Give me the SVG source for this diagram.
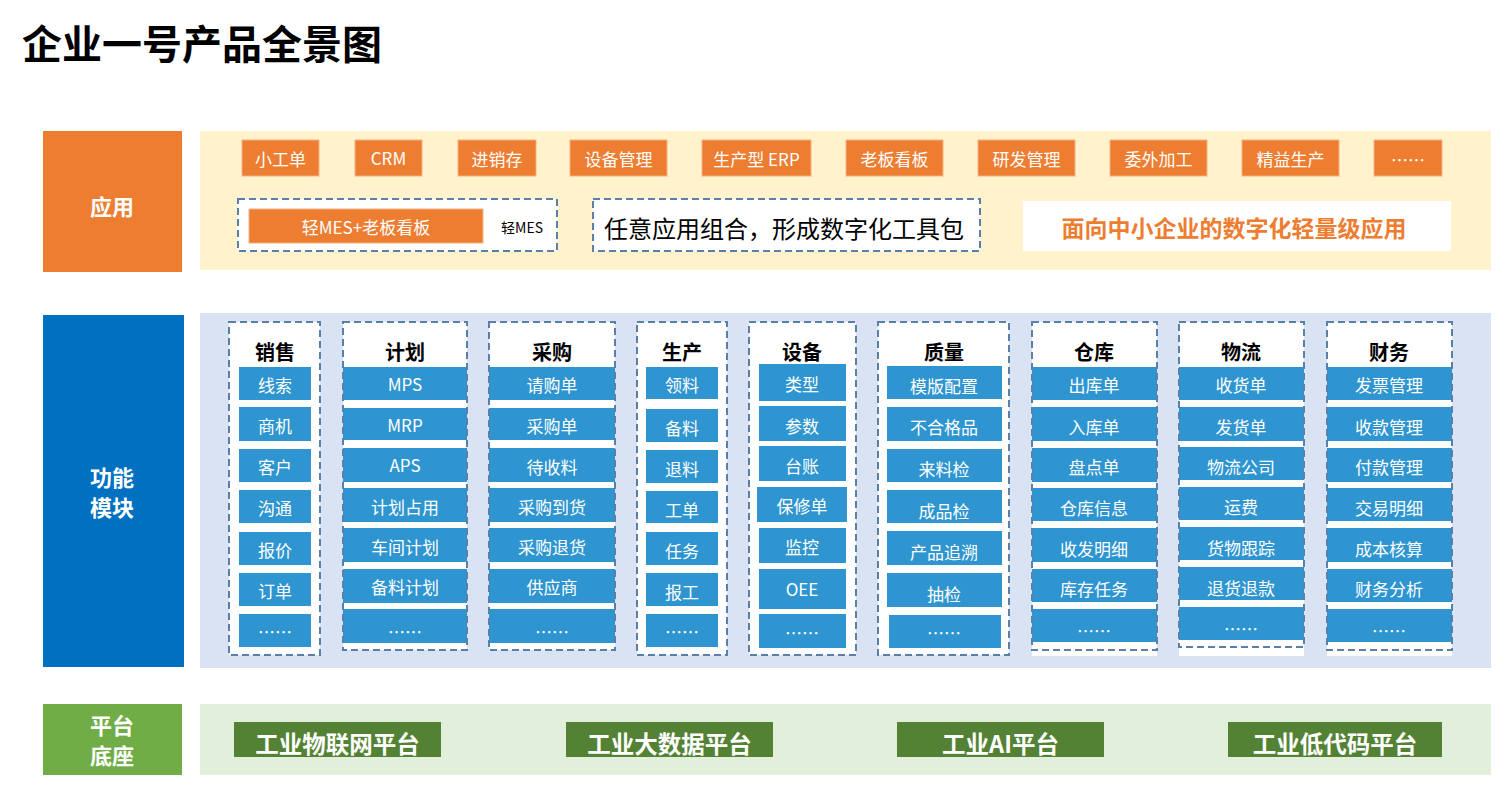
<svg xmlns="http://www.w3.org/2000/svg" width="1506" height="807" viewBox="0 0 1506 807">
<style>
text{font-family:"Noto Sans CJK SC","Noto Sans",sans-serif;}
.title{font-size:40px;font-weight:bold;fill:#000;}
.side{font-size:22px;font-weight:bold;fill:#fff;text-anchor:middle;}
.app{fill:#ED7D31;stroke:#F4B183;stroke-width:1;}
.appt{font-size:17px;fill:#fff;text-anchor:middle;transform:translate(0px,2px);}
.dash{fill:#fff;stroke:#5A7FA8;stroke-width:2;stroke-dasharray:7 4;}
.dashn{fill:none;stroke:#5A7FA8;stroke-width:2;stroke-dasharray:7 4;}
.hd{font-size:20px;font-weight:bold;fill:#000;text-anchor:middle;}
.it{fill:#2E95D1;}
.itt{font-size:17px;fill:#fff;text-anchor:middle;transform:translate(0px,2px);}
.plat{fill:#548235;}
.platt{font-size:23.5px;font-weight:bold;fill:#fff;text-anchor:middle;}
</style>

<text class="title" x="22" y="59">企业一号产品全景图</text>

<!-- 应用 layer -->
<g id="layer-app">
<rect x="43" y="131" width="139" height="141" fill="#ED7D31"/>
<text class="side" x="112" y="215">应用</text>
<rect x="200" y="131" width="1291" height="139" fill="#FFF2CC"/>
</g>
<g id="app-items">
<g id="app1"><rect class="app" x="242" y="140" width="77" height="36"/><text class="appt" x="280.5" y="164">小工单</text></g>
<g id="app2"><rect class="app" x="355" y="140" width="67" height="36"/><text class="appt" x="388.5" y="163">CRM</text></g>
<g id="app3"><rect class="app" x="458" y="140" width="78" height="36"/><text class="appt" x="497" y="164">进销存</text></g>
<g id="app4"><rect class="app" x="570" y="140" width="97" height="36"/><text class="appt" x="618.5" y="164">设备管理</text></g>
<g id="app5"><rect class="app" x="702" y="140" width="109" height="36"/><text class="appt" x="756.5" y="164">生产型 ERP</text></g>
<g id="app6"><rect class="app" x="846" y="140" width="97" height="36"/><text class="appt" x="894.5" y="164">老板看板</text></g>
<g id="app7"><rect class="app" x="978" y="140" width="97" height="36"/><text class="appt" x="1026.5" y="164">研发管理</text></g>
<g id="app8"><rect class="app" x="1110" y="140" width="97" height="36"/><text class="appt" x="1158.5" y="164">委外加工</text></g>
<g id="app9"><rect class="app" x="1242" y="140" width="97" height="36"/><text class="appt" x="1290.5" y="164">精益生产</text></g>
<g id="app10"><rect class="app" x="1374" y="140" width="68" height="36"/><text class="appt" x="1408" y="165">……</text></g>
</g>
<g id="app-combo">
<rect class="dash" x="238" y="199" width="319" height="52"/>
<rect class="app" x="249" y="209" width="234" height="34"/>
<text class="appt" x="366" y="232">轻MES+老板看板</text>
<text x="522" y="233" font-size="14" fill="#000" text-anchor="middle">轻MES</text>
</g>
<g id="app-toolkit">
<rect class="dash" x="593" y="199" width="387" height="52"/>
<text x="784" y="238" font-size="24" fill="#000" text-anchor="middle">任意应用组合，形成数字化工具包</text>
</g>
<g id="app-slogan">
<rect x="1023" y="201" width="428" height="50" fill="#fff"/>
<text x="1234" y="237" font-size="23" font-weight="bold" fill="#ED7D31" text-anchor="middle">面向中小企业的数字化轻量级应用</text>
</g>

<!-- 功能模块 layer -->
<g id="layer-func">
<rect x="43" y="315" width="141" height="352" fill="#0070C0"/>
<text class="side" x="112" y="486">功能</text>
<text class="side" x="112" y="516">模块</text>
<rect x="200" y="313" width="1291" height="355" fill="#DAE3F3"/>
</g>

<g id="col-sales">
<rect class="dash" x="229" y="322" width="91" height="333"/>
<text class="hd" x="275" y="360">销售</text>
<rect class="it" x="239" y="367" width="72" height="33"/><text class="itt" x="275" y="390">线索</text>
<rect class="it" x="239" y="407" width="72" height="34"/><text class="itt" x="275" y="431">商机</text>
<rect class="it" x="239" y="449" width="72" height="33"/><text class="itt" x="275" y="472">客户</text>
<rect class="it" x="239" y="490" width="72" height="33"/><text class="itt" x="275" y="513">沟通</text>
<rect class="it" x="239" y="532" width="72" height="33"/><text class="itt" x="275" y="555">报价</text>
<rect class="it" x="239" y="573" width="72" height="33"/><text class="itt" x="275" y="596">订单</text>
<rect class="it" x="239" y="614" width="72" height="33"/><text class="itt" x="275" y="637">……</text>
</g>

<g id="col-plan">
<rect x="343" y="322" width="124" height="328" fill="#fff"/>
<text class="hd" x="405" y="360">计划</text>
<rect class="it" x="343" y="367" width="124" height="33"/><text class="itt" x="405" y="389">MPS</text>
<rect class="it" x="343" y="408" width="124" height="32"/><text class="itt" x="405" y="430">MRP</text>
<rect class="it" x="343" y="448" width="124" height="34"/><text class="itt" x="405" y="470">APS</text>
<rect class="it" x="343" y="488" width="124" height="34"/><text class="itt" x="405" y="512">计划占用</text>
<rect class="it" x="343" y="528" width="124" height="34"/><text class="itt" x="405" y="552">车间计划</text>
<rect class="it" x="343" y="569" width="124" height="34"/><text class="itt" x="405" y="592">备料计划</text>
<rect class="it" x="343" y="609" width="124" height="34"/><text class="itt" x="405" y="637">……</text>
<rect class="dashn" x="343" y="322" width="124" height="328"/>
</g>

<g id="col-purchase">
<rect x="489" y="322" width="126" height="328" fill="#fff"/>
<text class="hd" x="552" y="360">采购</text>
<rect class="it" x="489" y="367" width="126" height="33"/><text class="itt" x="552" y="390">请购单</text>
<rect class="it" x="489" y="408" width="126" height="32"/><text class="itt" x="552" y="431">采购单</text>
<rect class="it" x="489" y="448" width="126" height="34"/><text class="itt" x="552" y="472">待收料</text>
<rect class="it" x="489" y="488" width="126" height="34"/><text class="itt" x="552" y="512">采购到货</text>
<rect class="it" x="489" y="528" width="126" height="34"/><text class="itt" x="552" y="552">采购退货</text>
<rect class="it" x="489" y="569" width="126" height="34"/><text class="itt" x="552" y="592">供应商</text>
<rect class="it" x="489" y="609" width="126" height="34"/><text class="itt" x="552" y="637">……</text>
<rect class="dashn" x="489" y="322" width="126" height="328"/>
</g>

<g id="col-production">
<rect class="dash" x="637" y="322" width="90" height="333"/>
<text class="hd" x="682" y="360">生产</text>
<rect class="it" x="646" y="367" width="72" height="32"/><text class="itt" x="682" y="390">领料</text>
<rect class="it" x="646" y="409" width="72" height="33"/><text class="itt" x="682" y="433">备料</text>
<rect class="it" x="646" y="450" width="72" height="33"/><text class="itt" x="682" y="474">退料</text>
<rect class="it" x="646" y="491" width="72" height="32"/><text class="itt" x="682" y="515">工单</text>
<rect class="it" x="646" y="532" width="72" height="33"/><text class="itt" x="682" y="556">任务</text>
<rect class="it" x="646" y="573" width="72" height="33"/><text class="itt" x="682" y="597">报工</text>
<rect class="it" x="646" y="614" width="72" height="33"/><text class="itt" x="682" y="637">……</text>
</g>

<g id="col-equipment">
<rect class="dash" x="749" y="322" width="107" height="333"/>
<text class="hd" x="802" y="360">设备</text>
<rect class="it" x="759" y="364" width="87" height="37"/><text class="itt" x="802" y="389">类型</text>
<rect class="it" x="759" y="406" width="87" height="35"/><text class="itt" x="802" y="431">参数</text>
<rect class="it" x="759" y="446" width="87" height="35"/><text class="itt" x="802" y="471">台账</text>
<rect class="it" x="757" y="487" width="90" height="35"/><text class="itt" x="802" y="511">保修单</text>
<rect class="it" x="759" y="528" width="87" height="35"/><text class="itt" x="802" y="552">监控</text>
<rect class="it" x="759" y="569" width="87" height="40"/><text class="itt" x="802" y="594">OEE</text>
<rect class="it" x="759" y="614" width="87" height="34"/><text class="itt" x="802" y="638">……</text>
</g>

<g id="col-quality">
<rect class="dash" x="878" y="322" width="131" height="333"/>
<text class="hd" x="944" y="360">质量</text>
<rect class="it" x="887" y="366" width="115" height="33"/><text class="itt" x="944" y="391">模版配置</text>
<rect class="it" x="887" y="407" width="115" height="34"/><text class="itt" x="944" y="432">不合格品</text>
<rect class="it" x="887" y="449" width="115" height="33"/><text class="itt" x="944" y="474">来料检</text>
<rect class="it" x="887" y="490" width="115" height="33"/><text class="itt" x="944" y="516">成品检</text>
<rect class="it" x="887" y="531" width="115" height="34"/><text class="itt" x="944" y="557">产品追溯</text>
<rect class="it" x="887" y="573" width="115" height="34"/><text class="itt" x="944" y="599">抽检</text>
<rect class="it" x="889" y="615" width="112" height="33"/><text class="itt" x="944" y="638">……</text>
</g>

<g id="col-warehouse">
<rect x="1032" y="322" width="125" height="334" fill="#fff"/>
<text class="hd" x="1094" y="360">仓库</text>
<rect class="it" x="1032" y="367" width="125" height="33"/><text class="itt" x="1094" y="390">出库单</text>
<rect class="it" x="1032" y="407" width="125" height="34"/><text class="itt" x="1094" y="432">入库单</text>
<rect class="it" x="1032" y="448" width="125" height="34"/><text class="itt" x="1094" y="472">盘点单</text>
<rect class="it" x="1032" y="488" width="125" height="33"/><text class="itt" x="1094" y="513">仓库信息</text>
<rect class="it" x="1032" y="528" width="125" height="34"/><text class="itt" x="1094" y="554">收发明细</text>
<rect class="it" x="1032" y="569" width="125" height="33"/><text class="itt" x="1094" y="594">库存任务</text>
<rect class="it" x="1032" y="609" width="125" height="33"/><text class="itt" x="1094" y="636">……</text>
<rect class="dashn" x="1032" y="322" width="125" height="328"/>
</g>

<g id="col-logistics">
<rect x="1179" y="322" width="125" height="334" fill="#fff"/>
<text class="hd" x="1241" y="360">物流</text>
<rect class="it" x="1179" y="367" width="125" height="33"/><text class="itt" x="1241" y="390">收货单</text>
<rect class="it" x="1179" y="407" width="125" height="34"/><text class="itt" x="1241" y="432">发货单</text>
<rect class="it" x="1179" y="447" width="125" height="33"/><text class="itt" x="1241" y="472">物流公司</text>
<rect class="it" x="1179" y="487" width="125" height="33"/><text class="itt" x="1241" y="512">运费</text>
<rect class="it" x="1179" y="527" width="125" height="33"/><text class="itt" x="1241" y="553">货物跟踪</text>
<rect class="it" x="1179" y="567" width="125" height="33"/><text class="itt" x="1241" y="593">退货退款</text>
<rect class="it" x="1179" y="607" width="125" height="33"/><text class="itt" x="1241" y="634">……</text>
<rect class="dashn" x="1179" y="322" width="125" height="325"/>
</g>

<g id="col-finance">
<rect x="1327" y="322" width="125" height="334" fill="#fff"/>
<text class="hd" x="1389" y="360">财务</text>
<rect class="it" x="1327" y="367" width="125" height="33"/><text class="itt" x="1389" y="390">发票管理</text>
<rect class="it" x="1327" y="407" width="125" height="34"/><text class="itt" x="1389" y="432">收款管理</text>
<rect class="it" x="1327" y="448" width="125" height="34"/><text class="itt" x="1389" y="472">付款管理</text>
<rect class="it" x="1327" y="488" width="125" height="33"/><text class="itt" x="1389" y="513">交易明细</text>
<rect class="it" x="1327" y="528" width="125" height="34"/><text class="itt" x="1389" y="554">成本核算</text>
<rect class="it" x="1327" y="569" width="125" height="33"/><text class="itt" x="1389" y="594">财务分析</text>
<rect class="it" x="1327" y="609" width="125" height="33"/><text class="itt" x="1389" y="636">……</text>
<rect class="dashn" x="1327" y="322" width="125" height="328"/>
</g>

<!-- 平台底座 layer -->
<g id="layer-platform">
<rect x="43" y="704" width="139" height="71" fill="#70AD47"/>
<text class="side" x="112" y="734">平台</text>
<text class="side" x="112" y="764">底座</text>
<rect x="200" y="704" width="1291" height="71" fill="#E2EFDA"/>
</g>
<g id="plat1"><rect class="plat" x="234" y="722" width="207" height="35"/><text class="platt" x="337.5" y="753">工业物联网平台</text></g>
<g id="plat2"><rect class="plat" x="566" y="722" width="207" height="35"/><text class="platt" x="669.5" y="753">工业大数据平台</text></g>
<g id="plat3"><rect class="plat" x="897" y="722" width="207" height="35"/><text class="platt" x="1000.5" y="753">工业AI平台</text></g>
<g id="plat4"><rect class="plat" x="1228" y="722" width="214" height="35"/><text class="platt" x="1335" y="753">工业低代码平台</text></g>

<g id="connectors"></g>
</svg>
